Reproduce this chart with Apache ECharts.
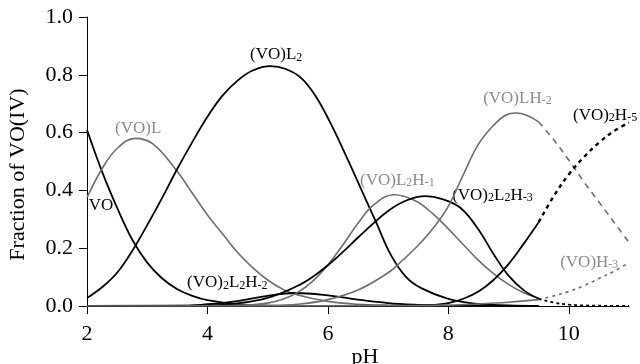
<!DOCTYPE html>
<html>
<head>
<meta charset="utf-8">
<script src="https://cdn.jsdelivr.net/npm/echarts@6/dist/echarts.min.js"></script>
<style>
  html, body { margin: 0; padding: 0; background: #fff; }
  #main { width: 640px; height: 364px; }
</style>
</head>
<body>
<div id="main"></div>
<script>
var xTicks = [2, 4, 6, 8, 10]

// species fractions (pH list + fraction list per species)
var phVO = [2, 2.25, 2.5, 2.75, 3, 3.25, 3.5, 3.75, 4, 4.5, 5, 6, 9.5]
var fVO = [0.61, 0.465, 0.34, 0.23, 0.15, 0.095, 0.058, 0.035, 0.02, 0.006, 0.001, 0, 0]

var phVOL = [2, 2.25, 2.5, 2.8, 3.1, 3.5, 3.75, 4, 4.25, 4.5, 4.75, 5, 5.25, 5.5, 6, 6.5, 7, 9.5]
var fVOL = [0.375, 0.475, 0.545, 0.58, 0.56, 0.465, 0.39, 0.315, 0.25, 0.185, 0.133, 0.09, 0.058, 0.038, 0.016, 0.006, 0.002, 0]

var phVOL2 = [2, 2.25, 2.5, 2.75, 3, 3.25, 3.5, 3.75, 4, 4.25, 4.5, 4.75, 5.05, 5.3, 5.55, 5.8, 6.05,
  6.3, 6.55, 6.8, 7.05, 7.3, 7.55, 8, 8.5, 9, 9.5]
var fVOL2 = [0.028, 0.065, 0.115, 0.19, 0.28, 0.375, 0.475, 0.568, 0.655, 0.728, 0.78, 0.815, 0.83, 0.82, 0.79,
  0.725, 0.63, 0.52, 0.405, 0.29, 0.175, 0.1, 0.062, 0.025, 0.007, 0.002, 0]

var phVO2L2Hm2 = [2, 3.5, 4, 4.5, 5, 5.45, 6, 6.5, 7, 7.5, 8, 9.5]
var fVO2L2Hm2 = [0, 0, 0.006, 0.017, 0.035, 0.045, 0.037, 0.022, 0.01, 0.004, 0.001, 0]

var phVOL2Hm1 = [2, 4.5, 5, 5.25, 5.5, 5.75, 6, 6.25, 6.5, 6.75, 7.1, 7.45, 7.75, 8, 8.25, 8.5, 8.75, 9, 9.25, 9.5]
var fVOL2Hm1 = [0, 0.002, 0.01, 0.023, 0.047, 0.086, 0.142, 0.212, 0.286, 0.348, 0.385, 0.364, 0.318, 0.267,
  0.212, 0.158, 0.112, 0.075, 0.046, 0.027]

var phVO2L2Hm3 = [2, 4, 4.5, 5, 5.5, 5.75, 6, 6.25, 6.5, 6.75, 7, 7.3, 7.62, 7.9, 8.2, 8.5, 8.75, 9, 9.25, 9.5]
var fVO2L2Hm3 = [0, 0.002, 0.009, 0.028, 0.07, 0.101, 0.141, 0.187, 0.237, 0.285, 0.329, 0.365, 0.38, 0.37,
  0.34, 0.265, 0.18, 0.105, 0.055, 0.025]

var phVOLHm2 = [2, 5, 5.5, 6, 6.5, 7, 7.25, 7.5, 7.75, 8, 8.25, 8.5, 8.75, 8.95, 9.12, 9.3, 9.5]
var fVOLHm2 = [0, 0.002, 0.006, 0.022, 0.055, 0.115, 0.16, 0.21, 0.27, 0.345, 0.455, 0.56, 0.625, 0.66, 0.668,
  0.66, 0.637]

var phVO2Hm5 = [2, 7.5, 7.75, 8, 8.25, 8.5, 8.75, 9, 9.25, 9.5]
var fVO2Hm5 = [0, 0.001, 0.004, 0.01, 0.025, 0.05, 0.09, 0.145, 0.215, 0.29]

var phVOHm3 = [2, 7, 8, 8.5, 9, 9.5]
var fVOHm3 = [0, 0.001, 0.003, 0.007, 0.013, 0.022]

// extrapolated tails beyond pH 9.5
var phTail = [9.5, 9.75, 10, 10.25, 10.5, 10.75, 11]
var tVOLHm2 = [0.637, 0.575, 0.505, 0.43, 0.36, 0.29, 0.22]
var tVO2Hm5 = [0.29, 0.38, 0.455, 0.515, 0.565, 0.605, 0.635]
var tVOHm3 = [0.022, 0.035, 0.05, 0.07, 0.095, 0.12, 0.15]
var tLow = [0.025, 0.012, 0.005, 0.002, 0.001, 0, 0]

var BLACK = '#000'
var GREY = '#6e6e6e'
var GREY_TEXT = '#8a8a8a'
var FONT = '"Liberation Serif", "Times New Roman", Times, serif'

function zip(xs, ys) {
  return xs.map(function (x, i) { return [x, ys[i]] })
}

function curve(name, xs, ys, color, width, type) {
  return {
    name: name,
    type: 'line',
    data: zip(xs, ys),
    showSymbol: false,
    smooth: 0.4,
    lineStyle: { color: color, width: width, type: type || 'solid' },
    silent: true
  }
}

// species labels: [text, pH, fraction at top-left, colour]
var labels = [
  ['(VO)L', 2.465, 0.644, GREY_TEXT],
  ['VO', 2.03, 0.378, BLACK],
  ['(VO)L{s|2}', 4.708, 0.898, BLACK],
  ['(VO){s|2}L{s|2}H{s|-2}', 3.661, 0.109, BLACK],
  ['(VO)L{s|2}H{s|-1}', 6.535, 0.4635, GREY_TEXT],
  ['(VO){s|2}L{s|2}H{s|-3}', 8.063, 0.411, BLACK],
  ['(VO)LH{s|-2}', 8.578, 0.748, GREY_TEXT],
  ['(VO){s|2}H{s|-5}', 10.07, 0.689, BLACK],
  ['(VO)H{s|-3}', 9.857, 0.179, GREY_TEXT]
]

var chart = echarts.init(document.getElementById('main'), null, { renderer: 'canvas' })

var option = {
  animation: false,
  backgroundColor: '#fff',
  grid: { left: 87, right: 11, top: 17, bottom: 58, containLabel: false, outerBoundsMode: 'none' },
  xAxis: {
    type: 'value',
    min: 2,
    max: 11,
    interval: 2,
    name: 'pH',
    nameLocation: 'middle',
    nameGap: 40,
    nameMoveOverlap: false,
    nameTextStyle: { fontFamily: FONT, fontSize: 22, color: BLACK, padding: [0, 0, 0, 14] },
    axisLine: { lineStyle: { color: BLACK, width: 1 } },
    axisTick: { show: true, length: 8, customValues: xTicks, lineStyle: { color: BLACK } },
    axisLabel: { customValues: xTicks, fontFamily: FONT, fontSize: 22, color: BLACK, margin: 17 },
    splitLine: { show: false }
  },
  yAxis: {
    type: 'value',
    min: 0,
    max: 1,
    interval: 0.2,
    name: 'Fraction of VO(IV)',
    nameLocation: 'middle',
    nameGap: 58,
    nameMoveOverlap: false,
    nameTextStyle: { fontFamily: FONT, fontSize: 22, color: BLACK, padding: [0, 26, 0, 0] },
    axisLine: { show: true, lineStyle: { color: BLACK, width: 1 } },
    axisTick: { show: true, length: 8, lineStyle: { color: BLACK } },
    axisLabel: {
      fontFamily: FONT, fontSize: 22, color: BLACK, margin: 14,
      formatter: function (v) { return v.toFixed(1) }
    },
    splitLine: { show: false }
  },
  series: [
    curve('VO', phVO, fVO, BLACK, 1.8),
    curve('(VO)L', phVOL, fVOL, GREY, 1.6),
    curve('(VO)L2', phVOL2, fVOL2, BLACK, 1.8),
    curve('(VO)2L2H-2', phVO2L2Hm2, fVO2L2Hm2, BLACK, 1.8),
    curve('(VO)L2H-1', phVOL2Hm1, fVOL2Hm1, GREY, 1.6),
    curve('(VO)2L2H-3', phVO2L2Hm3, fVO2L2Hm3, BLACK, 1.8),
    curve('(VO)LH-2', phVOLHm2, fVOLHm2, GREY, 1.6),
    curve('(VO)2H-5', phVO2Hm5, fVO2Hm5, BLACK, 1.8),
    curve('(VO)H-3', phVOHm3, fVOHm3, GREY, 1.6),
    curve('(VO)LH-2 tail', phTail, tVOLHm2, GREY, 1.6, [6, 5]),
    curve('(VO)2H-5 tail', phTail, tVO2Hm5, BLACK, 2.4, [4, 4]),
    curve('(VO)H-3 tail', phTail, tVOHm3, GREY, 1.6, [3, 4]),
    curve('low tail', phTail, tLow, BLACK, 1.8, [3, 3])
  ]
}

chart.setOption(option)

// place species names next to their curves
var graphics = labels.map(function (l) {
  var p = chart.convertToPixel({ gridIndex: 0 }, [l[1], l[2]])
  return {
    type: 'text',
    x: p[0],
    y: p[1],
    silent: true,
    style: {
      text: l[0],
      fill: l[3],
      fontFamily: FONT,
      fontSize: 17,
      lineHeight: 17,
      align: 'left',
      verticalAlign: 'top',
      rich: {
        s: { fontFamily: FONT, fontSize: 12, lineHeight: 10, verticalAlign: 'bottom', fill: l[3] }
      }
    }
  }
})
chart.setOption({ graphic: graphics })
</script>
</body>
</html>
